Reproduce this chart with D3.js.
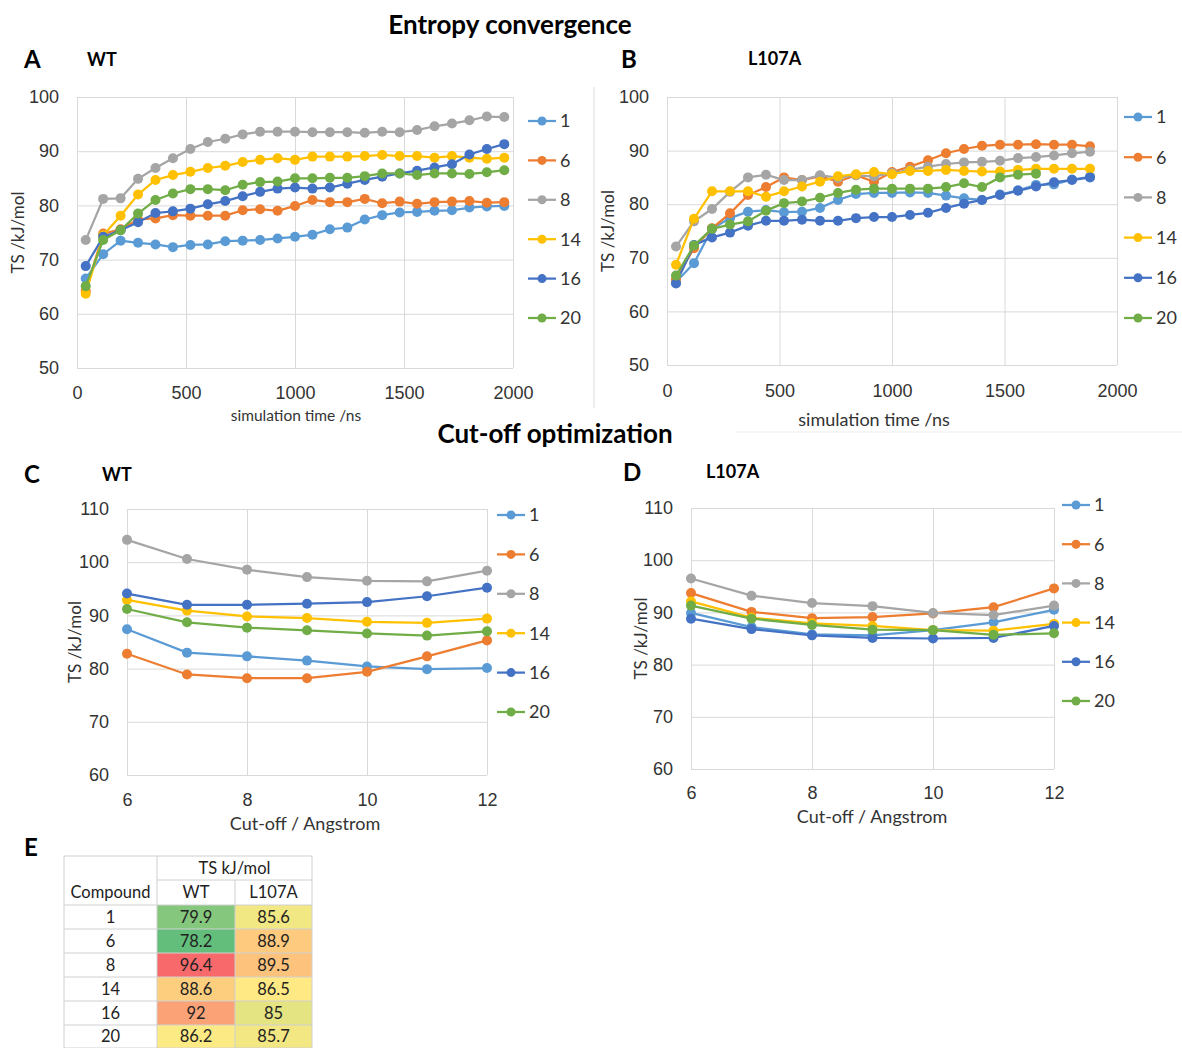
<!DOCTYPE html>
<html>
<head>
<meta charset="utf-8">
<script src="https://cdn.jsdelivr.net/npm/d3@7"></script>
<style>
  body { margin: 0; background: #fff; }
  svg { display: block; font-family: Lato, "Open Sans", sans-serif; }
  .grid line { stroke: #d9d9d9; stroke-width: 1; }
  .tick text { fill: #333; font-size: 18px; }
</style>
</head>
<body>
<div id="chart"></div>
<script>
// series (compounds) and their Excel colours
var compounds = ["1", "6", "8", "14", "16", "20"];
var colors = ["#5B9BD5", "#ED7D31", "#A5A5A5", "#FFC000", "#4472C4", "#70AD47"];

// simulation time, ns
var timeWT = [40, 120, 200, 280, 360, 440, 520, 600, 680, 760, 840, 920, 1000,
  1080, 1160, 1240, 1320, 1400, 1480, 1560, 1640, 1720, 1800, 1880, 1960];
var timeL107A = [40, 120, 200, 280, 360, 440, 520, 600, 680, 760, 840, 920, 1000,
  1080, 1160, 1240, 1320, 1400, 1480, 1560, 1640, 1720, 1800, 1880];

// A: entropy convergence, WT
var convWT = [
  [66.5, 71.0, 73.5, 73.1, 72.8, 72.3, 72.7, 72.8, 73.4, 73.5, 73.6, 73.9, 74.2, 74.6, 75.6, 75.9, 77.4, 78.2, 78.7, 78.8, 79.0, 79.1, 79.6, 79.8, 79.9],
  [64.2, 74.8, 75.6, 77.4, 77.6, 78.2, 78.1, 78.1, 78.1, 79.1, 79.3, 79.0, 79.9, 81.0, 80.6, 80.6, 81.2, 80.4, 80.7, 80.3, 80.6, 80.7, 80.8, 80.5, 80.6],
  [73.6, 81.2, 81.3, 84.9, 86.9, 88.7, 90.4, 91.7, 92.3, 93.1, 93.6, 93.6, 93.6, 93.5, 93.5, 93.5, 93.4, 93.6, 93.5, 93.9, 94.6, 95.1, 95.7, 96.4, 96.3],
  [63.7, 74.5, 78.1, 82.0, 84.7, 85.6, 86.2, 86.9, 87.3, 88.0, 88.4, 88.7, 88.4, 89.0, 89.0, 89.0, 89.1, 89.3, 89.1, 89.1, 88.8, 89.1, 88.8, 88.6, 88.8],
  [68.8, 74.2, 75.4, 76.9, 78.6, 78.9, 79.4, 80.2, 80.8, 81.7, 82.5, 83.1, 83.3, 83.1, 83.3, 84.0, 84.7, 85.3, 85.9, 86.4, 87.0, 87.6, 89.4, 90.4, 91.3],
  [65.1, 73.6, 75.4, 78.5, 81.0, 82.2, 83.0, 83.0, 82.8, 83.8, 84.3, 84.4, 85.0, 85.0, 85.1, 85.1, 85.4, 85.9, 85.9, 85.6, 85.9, 85.9, 85.8, 86.1, 86.5]
];

// B: entropy convergence, L107A
var convL107A = [
  [65.5, 69.0, 75.4, 77.4, 78.6, 78.9, 78.5, 78.6, 79.3, 80.8, 81.9, 82.1, 82.1, 82.2, 82.1, 81.6, 81.1, 80.8, 81.8, 82.6, 83.6, 83.7, 84.6, 85.1],
  [66.0, 71.8, 75.5, 78.3, 81.7, 83.2, 85.0, 84.5, 85.2, 84.2, 85.4, 84.2, 86.0, 87.0, 88.2, 89.5, 90.3, 90.9, 91.1, 91.1, 91.2, 91.1, 91.1, 90.8],
  [72.1, 76.8, 79.1, 82.3, 85.0, 85.5, 84.5, 84.5, 85.4, 84.9, 85.4, 85.2, 85.8, 86.4, 87.0, 87.5, 87.8, 87.9, 88.1, 88.6, 88.8, 89.1, 89.5, 89.8],
  [68.7, 77.3, 82.4, 82.4, 82.4, 81.4, 82.4, 83.3, 84.2, 85.2, 85.6, 86.0, 85.6, 86.2, 86.2, 86.4, 86.2, 86.1, 86.1, 86.4, 86.6, 86.6, 86.6, 86.6],
  [65.2, 72.4, 73.8, 74.7, 76.0, 76.9, 76.9, 77.1, 76.9, 76.9, 77.4, 77.6, 77.6, 78.0, 78.4, 79.3, 80.1, 80.8, 81.7, 82.5, 83.3, 84.1, 84.5, 85.0],
  [66.7, 72.3, 75.4, 76.2, 76.8, 78.8, 80.2, 80.5, 81.2, 82.1, 82.7, 82.9, 82.9, 82.9, 82.9, 83.2, 83.9, 83.2, 85.0, 85.5, 85.7]
];

// cut-off, Angstrom
var cutoffs = [6, 7, 8, 9, 10, 11, 12];

// C: cut-off optimization, WT
var cutWT = [
  [87.4, 83.0, 82.3, 81.5, 80.4, 79.9, 80.1],
  [82.8, 78.9, 78.2, 78.2, 79.4, 82.3, 85.3],
  [104.2, 100.6, 98.6, 97.2, 96.5, 96.4, 98.4],
  [92.9, 90.9, 89.8, 89.5, 88.8, 88.6, 89.4],
  [94.1, 92.0, 92.0, 92.2, 92.5, 93.6, 95.2],
  [91.2, 88.7, 87.7, 87.2, 86.6, 86.2, 87.0]
];

// D: cut-off optimization, L107A
var cutL107A = [
  [89.9, 87.2, 85.8, 85.6, 86.6, 88.1, 90.5],
  [93.7, 90.1, 88.9, 89.1, 89.8, 91.0, 94.6],
  [96.5, 93.2, 91.8, 91.2, 89.9, 89.5, 91.3],
  [92.1, 89.0, 87.9, 87.4, 86.6, 86.5, 87.8],
  [88.8, 86.8, 85.6, 85.1, 85.0, 85.1, 87.4],
  [91.3, 88.8, 87.6, 86.7, 86.6, 85.7, 86.0]
];

// E: summary table
var tableWT = [79.9, 78.2, 96.4, 88.6, 92, 86.2];
var tableL107A = [85.6, 88.9, 89.5, 86.5, 85, 85.7];

var svg = d3.select("#chart").append("svg")
  .attr("width", 1182)
  .attr("height", 1048);

function drawPanel(p) {
  var x = d3.scaleLinear().domain(p.xDomain).range([p.left, p.right]);
  var y = d3.scaleLinear().domain(p.yDomain).range([p.bottom, p.top]);
  var g = svg.append("g");

  // gridlines + y labels
  var yAxis = g.append("g").attr("class", "grid")
    .attr("transform", "translate(" + p.left + ",0)")
    .call(d3.axisLeft(y).tickValues(p.yTicks).tickFormat(d3.format("d"))
      .tickSize(-(p.right - p.left)).tickPadding(18));
  yAxis.select(".domain").remove();

  var xAxis = g.append("g").attr("class", "grid")
    .attr("transform", "translate(0," + p.bottom + ")")
    .call(d3.axisBottom(x).tickValues(p.xTicks).tickFormat(d3.format("d"))
      .tickSize(-(p.bottom - p.top)).tickPadding(p.xPad));
  xAxis.select(".domain").remove();

  // axis titles
  g.append("text")
    .attr("transform", "translate(" + p.yTitleX + "," + ((p.top + p.bottom) / 2) + ") rotate(-90)")
    .attr("text-anchor", "middle").attr("dy", "0.35em")
    .style("font-size", "17px").style("fill", "#333")
    .text("TS /kJ/mol");
  g.append("text")
    .attr("x", p.xTitleX).attr("y", p.xTitleY)
    .attr("text-anchor", "middle").attr("dy", "0.35em")
    .style("font-size", p.xTitleSize + "px").style("fill", "#333")
    .text(p.xTitle);

  var line = d3.line()
    .x(function(d) { return x(d[0]); })
    .y(function(d) { return y(d[1]); });

  p.values.forEach(function(vals, i) {
    var pts = vals.map(function(v, j) { return [p.xs[j], v]; });
    g.append("path")
      .attr("d", line(pts))
      .attr("fill", "none")
      .attr("stroke", colors[i])
      .attr("stroke-width", 2.25);
    g.selectAll(null)
      .data(pts)
      .enter().append("circle")
      .attr("cx", function(d) { return x(d[0]); })
      .attr("cy", function(d) { return y(d[1]); })
      .attr("r", 5)
      .attr("fill", colors[i]);
  });

  // legend
  var leg = g.append("g");
  compounds.forEach(function(c, i) {
    var ly = p.legY + i * p.legStep;
    leg.append("line")
      .attr("x1", p.legX).attr("x2", p.legX + 28)
      .attr("y1", ly).attr("y2", ly)
      .attr("stroke", colors[i]).attr("stroke-width", 2.25);
    leg.append("circle")
      .attr("cx", p.legX + 14).attr("cy", ly).attr("r", 4.5)
      .attr("fill", colors[i]);
    leg.append("text")
      .attr("x", p.legX + 32).attr("y", ly).attr("dy", "0.35em")
      .style("font-size", "18px").style("fill", "#333")
      .text(c);
  });
}

function label(txt, lx, ly, size, anchor) {
  svg.append("text")
    .attr("x", lx).attr("y", ly).attr("dy", "0.35em")
    .attr("text-anchor", anchor || "start")
    .style("font-size", size + "px").style("font-weight", "bold").style("fill", "#000")
    .text(txt);
}

label("Entropy convergence", 510, 25, 26, "middle");
label("Cut-off optimization", 555, 434, 26, "middle");
label("A", 24, 60, 24);
label("WT", 87, 60, 18);
label("B", 621, 60, 24);
label("L107A", 748, 59, 18);
label("C", 24, 475, 24);
label("WT", 102, 475, 18);
label("D", 623, 473, 24);
label("L107A", 706, 472, 18);
label("E", 24, 848, 24);

// thin separators from the original figure
svg.append("line").attr("x1", 594).attr("x2", 594).attr("y1", 87).attr("y2", 408)
  .attr("stroke", "#dcdcdc");
svg.append("line").attr("x1", 737).attr("x2", 1182).attr("y1", 432).attr("y2", 432)
  .attr("stroke", "#ececec");

drawPanel({
  xDomain: [0, 2000], yDomain: [50, 100],
  left: 77, right: 513, top: 97, bottom: 368,
  xTicks: [0, 500, 1000, 1500, 2000], yTicks: [50, 60, 70, 80, 90, 100],
  xPad: 18, yTitleX: 18, xTitleX: 296, xTitleY: 416, xTitleSize: 15.5,
  xTitle: "simulation time /ns",
  xs: timeWT, values: convWT,
  legX: 528, legY: 121, legStep: 39.4
});

drawPanel({
  xDomain: [0, 2000], yDomain: [50, 100],
  left: 667, right: 1117, top: 97, bottom: 365,
  xTicks: [0, 500, 1000, 1500, 2000], yTicks: [50, 60, 70, 80, 90, 100],
  xPad: 19, yTitleX: 608, xTitleX: 874, xTitleY: 420, xTitleSize: 18,
  xTitle: "simulation time /ns",
  xs: timeL107A, values: convL107A,
  legX: 1124, legY: 117, legStep: 40.2
});

drawPanel({
  xDomain: [6, 12], yDomain: [60, 110],
  left: 127, right: 487, top: 509, bottom: 775,
  xTicks: [6, 8, 10, 12], yTicks: [60, 70, 80, 90, 100, 110],
  xPad: 18, yTitleX: 75, xTitleX: 305, xTitleY: 824, xTitleSize: 18,
  xTitle: "Cut-off / Angstrom",
  xs: cutoffs, values: cutWT,
  legX: 497, legY: 515, legStep: 39.4
});

drawPanel({
  xDomain: [6, 12], yDomain: [60, 110],
  left: 691, right: 1054, top: 508, bottom: 769,
  xTicks: [6, 8, 10, 12], yTicks: [60, 70, 80, 90, 100, 110],
  xPad: 17, yTitleX: 641, xTitleX: 872, xTitleY: 817, xTitleSize: 18,
  xTitle: "Cut-off / Angstrom",
  xs: cutoffs, values: cutL107A,
  legX: 1062, legY: 505, legStep: 39.2
});

// table E with an Excel-like green-yellow-red colour scale over all values
var allVals = tableWT.concat(tableL107A);
var heat = d3.scaleLinear()
  .domain([d3.min(allVals), d3.median(allVals), d3.max(allVals)])
  .range(["#63BE7B", "#FFEB84", "#F8696B"]);

var colX = [64, 157, 235, 312];
var rowY = [856, 880, 905, 929, 953, 977, 1001, 1025, 1048];
var tg = svg.append("g").style("font-size", "16.5px").style("fill", "#222");

compounds.forEach(function(c, i) {
  var y0 = rowY[i + 2], y1 = rowY[i + 3];
  [tableWT[i], tableL107A[i]].forEach(function(v, k) {
    tg.append("rect")
      .attr("x", colX[k + 1]).attr("y", y0)
      .attr("width", colX[k + 2] - colX[k + 1]).attr("height", y1 - y0)
      .attr("fill", heat(v));
    tg.append("text")
      .attr("x", (colX[k + 1] + colX[k + 2]) / 2).attr("y", (y0 + y1) / 2)
      .attr("dy", "0.35em").attr("text-anchor", "middle")
      .text(v);
  });
  tg.append("text")
    .attr("x", (colX[0] + colX[1]) / 2).attr("y", (y0 + y1) / 2)
    .attr("dy", "0.35em").attr("text-anchor", "middle")
    .text(c);
});

tg.append("text").attr("x", (colX[1] + colX[3]) / 2).attr("y", (rowY[0] + rowY[1]) / 2)
  .attr("dy", "0.35em").attr("text-anchor", "middle").text("TS kJ/mol");
tg.append("text").attr("x", (colX[0] + colX[1]) / 2).attr("y", (rowY[1] + rowY[2]) / 2)
  .attr("dy", "0.35em").attr("text-anchor", "middle").text("Compound");
tg.append("text").attr("x", (colX[1] + colX[2]) / 2).attr("y", (rowY[1] + rowY[2]) / 2)
  .attr("dy", "0.35em").attr("text-anchor", "middle").text("WT");
tg.append("text").attr("x", (colX[2] + colX[3]) / 2).attr("y", (rowY[1] + rowY[2]) / 2)
  .attr("dy", "0.35em").attr("text-anchor", "middle").text("L107A");

// cell borders
var bc = "#d0d0d0";
rowY.forEach(function(ry, r) {
  var x0 = (r === 1) ? colX[1] : colX[0];
  tg.append("line").attr("x1", x0).attr("x2", colX[3]).attr("y1", ry).attr("y2", ry)
    .attr("stroke", bc);
});
colX.forEach(function(cx, k) {
  var y0 = (k === 2) ? rowY[1] : rowY[0];
  tg.append("line").attr("x1", cx).attr("x2", cx).attr("y1", y0).attr("y2", rowY[8])
    .attr("stroke", bc);
});
</script>
</body>
</html>
